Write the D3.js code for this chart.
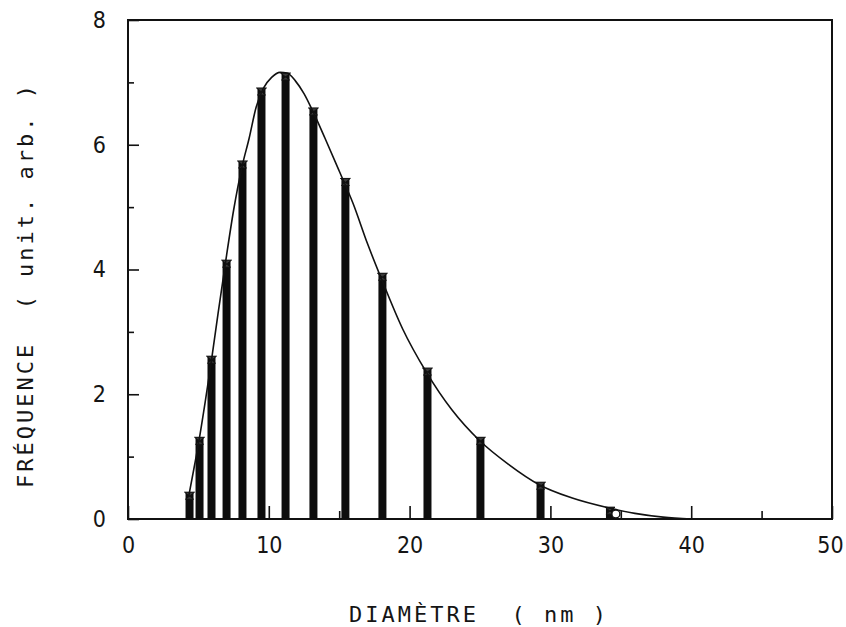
<!DOCTYPE html>
<html>
<head>
<meta charset="utf-8">
<script src="https://cdn.jsdelivr.net/npm/d3@7"></script>
<style>
  body { margin: 0; background: #fff; }
  .tick text { font-family: "DejaVu Sans Condensed", "DejaVu Sans", sans-serif; font-stretch: condensed; font-size: 23px; fill: #151515; }
  .titre { font-family: "DejaVu Sans Mono", monospace; font-size: 22px; fill: #151515; }
</style>
</head>
<body>
<script>
// classes de diamètre (nm) et fréquences
const diametres = [4.37, 5.08, 5.93, 7.0, 8.13, 9.48, 11.19, 13.17, 15.44, 18.07, 21.27, 25.03, 29.3, 34.23];
const frequences = [0.43, 1.31, 2.61, 4.15, 5.74, 6.91, 7.15, 6.59, 5.46, 3.94, 2.42, 1.31, 0.59, 0.19];

// courbe ajustée (points relevés)
const courbeX = [4.3, 4.7, 5.0, 5.5, 5.9, 6.4, 6.95, 7.5, 8.1, 8.6, 9.1, 9.6, 10.2, 10.8, 11.3, 11.9, 12.5, 13.1, 14.0, 15.0, 16.0, 17.0, 18.0, 19.5, 21.2, 23.0, 25.0, 27.0, 29.2, 31.5, 34.1, 36.0, 38.0, 40.0];
const courbeY = [0.35, 0.83, 1.2, 1.9, 2.5, 3.3, 4.15, 4.95, 5.65, 6.1, 6.6, 6.9, 7.08, 7.16, 7.15, 7.02, 6.82, 6.55, 6.1, 5.58, 5.05, 4.42, 3.85, 3.05, 2.35, 1.75, 1.25, 0.88, 0.55, 0.34, 0.18, 0.09, 0.03, 0.0];

// petit cercle près de la queue de la courbe
const cercleX = [34.65];
const cercleY = [0.08];

// graduations
const xTicks = [0, 10, 20, 30, 40, 50];
const xMinor = [5, 15, 25, 35, 45];
const yTicks = [0, 2, 4, 6, 8];
const yMinor = [1, 3, 5, 7];

const WIDTH = 846;
const HEIGHT = 627;
const mLeft = 128, mRight = 832, mTop = 20, mBottom = 519;

const svg = d3.select("body").append("svg")
  .attr("width", WIDTH)
  .attr("height", HEIGHT);

const x = d3.scaleLinear().domain([0, 50]).range([mLeft, mRight]);
const y = d3.scaleLinear().domain([0, 8]).range([mBottom, mTop]);

// axe x : graduations vers l'intérieur
const axeX = svg.append("g").attr("transform", `translate(0,${mBottom})`)
  .call(d3.axisBottom(x).tickValues(xTicks).tickSize(-13).tickPadding(18).tickFormat(d3.format("d")));
svg.append("g").attr("transform", `translate(0,${mBottom})`)
  .call(d3.axisBottom(x).tickValues(xMinor).tickSize(-8).tickFormat(""));

// le dernier libellé touche le bord : on le décale un peu
axeX.selectAll(".tick text").filter((d) => d === 50).attr("dx", -2);

// axe y
svg.append("g").attr("transform", `translate(${mLeft},0)`)
  .call(d3.axisLeft(y).tickValues(yTicks).tickSize(-11).tickPadding(22).tickFormat(d3.format("d")));
svg.append("g").attr("transform", `translate(${mLeft},0)`)
  .call(d3.axisLeft(y).tickValues(yMinor).tickSize(-6).tickFormat(""));

svg.selectAll(".domain").remove();
svg.selectAll(".tick line").attr("stroke", "#111").attr("stroke-width", 1.6);
svg.selectAll(".tick text").attr("font-family", null).attr("font-size", null);

// cadre
svg.append("rect")
  .attr("x", mLeft).attr("y", mTop)
  .attr("width", mRight - mLeft).attr("height", mBottom - mTop)
  .attr("fill", "none").attr("stroke", "#111").attr("stroke-width", 2);

// barres
const barW = 8;
svg.append("g").selectAll("rect")
  .data(diametres)
  .join("rect")
  .attr("x", (d) => x(d) - barW / 2)
  .attr("y", (d, i) => y(frequences[i]))
  .attr("width", barW)
  .attr("height", (d, i) => y(0) - y(frequences[i]))
  .attr("fill", "#0d0d0d");

// petits chapeaux en haut des barres
svg.append("g").selectAll("path")
  .data(diametres)
  .join("path")
  .attr("d", (d, i) => {
    const cx = x(d), cy = y(frequences[i]);
    return `M${cx - 5},${cy} L${cx + 5},${cy} L${cx - 4},${cy + 7} L${cx + 4},${cy + 7} Z`;
  })
  .attr("fill", "#3a3a3a")
  .attr("stroke", "#111")
  .attr("stroke-width", 1);

// courbe
const ligne = d3.line()
  .x((d) => x(d[0]))
  .y((d) => y(d[1]))
  .curve(d3.curveMonotoneX);

svg.append("path")
  .datum(d3.zip(courbeX, courbeY))
  .attr("d", ligne)
  .attr("fill", "none")
  .attr("stroke", "#111")
  .attr("stroke-width", 1.6);

svg.append("g").selectAll("circle")
  .data(cercleX)
  .join("circle")
  .attr("cx", (d) => x(d))
  .attr("cy", (d, i) => y(cercleY[i]))
  .attr("r", 4)
  .attr("fill", "#fff")
  .attr("stroke", "#111")
  .attr("stroke-width", 1.4);

// titres
svg.append("text")
  .attr("class", "titre")
  .attr("x", 479).attr("y", 622)
  .attr("text-anchor", "middle")
  .attr("letter-spacing", 3)
  .attr("xml:space", "preserve")
  .text("DIAMÈTRE  ( nm )");

svg.append("text")
  .attr("class", "titre")
  .attr("transform", "translate(33,285) rotate(-90)")
  .attr("text-anchor", "middle")
  .attr("letter-spacing", 3)
  .attr("xml:space", "preserve")
  .text("FRÉQUENCE  ( unit. arb. )");
</script>
</body>
</html>
